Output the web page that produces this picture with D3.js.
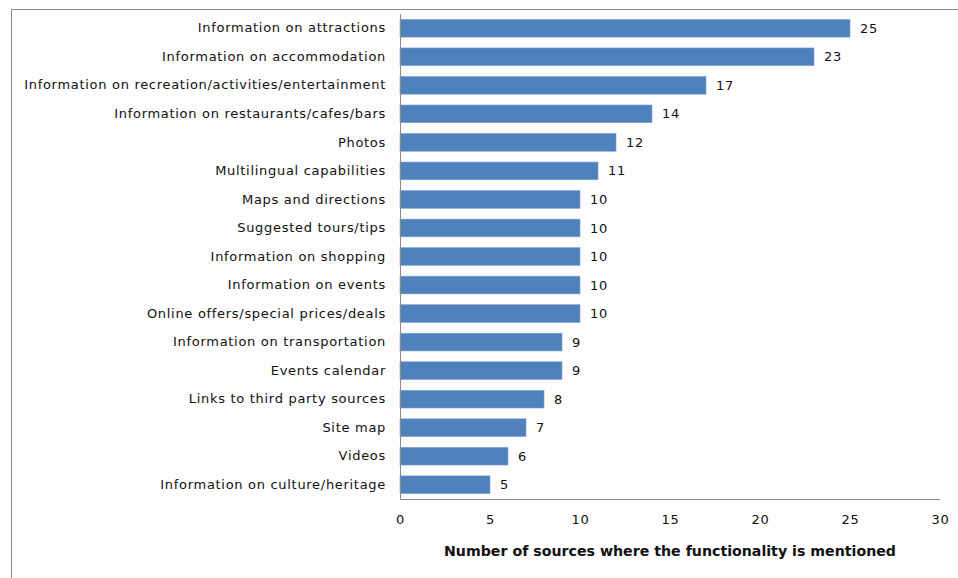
<!DOCTYPE html>
<html>
<head>
<meta charset="utf-8">
<script src="https://cdn.jsdelivr.net/npm/d3@7"></script>
<style>
  body { margin: 0; background: #fff; }
  svg { display: block; }
</style>
</head>
<body>
<svg width="958" height="578"></svg>
<script>
// functionalities, top to bottom
var categories = [
    "Information on attractions",
    "Information on accommodation",
    "Information on recreation/activities/entertainment",
    "Information on restaurants/cafes/bars",
    "Photos",
    "Multilingual capabilities",
    "Maps and directions",
    "Suggested tours/tips",
    "Information on shopping",
    "Information on events",
    "Online offers/special prices/deals",
    "Information on transportation",
    "Events calendar",
    "Links to third party sources",
    "Site map",
    "Videos",
    "Information on culture/heritage"
];
var counts = [25, 23, 17, 14, 12, 11, 10, 10, 10, 10, 10, 9, 9, 8, 7, 6, 5];
var xTicks = [0, 5, 10, 15, 20, 25, 30];
var xTitle = "Number of sources where the functionality is mentioned";

var svg = d3.select("svg");
var font = "'DejaVu Sans', Verdana, sans-serif";

// outer chart border
svg.append("rect")
    .attr("x", 11.5).attr("y", 9.5)
    .attr("width", 960).attr("height", 580)
    .attr("fill", "#fdfdfd")
    .attr("stroke", "#8a8a8a");

var margin = {top: 14, left: 400, right: 18, bottom: 79},
    width = 958 - margin.left - margin.right,
    height = 578 - margin.top - margin.bottom;

var x = d3.scaleLinear().domain([0, 30]).range([0, width]);
var y = d3.scaleBand().domain(categories).range([0, height]).paddingInner(0.38).paddingOuter(0.19);

var g = svg.append("g").attr("transform", "translate(" + margin.left + "," + margin.top + ")");

var data = categories.map(function(c, i){ return {name: c, value: counts[i]}; });

g.selectAll("rect.bar")
    .data(data)
    .enter().append("rect")
    .attr("class", "bar")
    .attr("x", 0)
    .attr("y", function(d){ return y(d.name); })
    .attr("width", function(d){ return x(d.value); })
    .attr("height", y.bandwidth())
    .attr("fill", "#4f81bd")
    .attr("stroke", "#7ba0cd")
    .attr("stroke-width", 0.6);

g.selectAll("text.val")
    .data(data)
    .enter().append("text")
    .attr("class", "val")
    .attr("x", function(d){ return x(d.value) + 10; })
    .attr("y", function(d){ return y(d.name) + y.bandwidth() / 2; })
    .attr("dy", "0.35em")
    .attr("font-family", font)
    .attr("font-size", "13px")
    .attr("letter-spacing", "0.7px")
    .attr("fill", "#111")
    .text(function(d){ return d.value; });

// y axis (category labels)
var yAxis = g.append("g")
    .call(d3.axisLeft(y).tickSize(0).tickPadding(14));
yAxis.select(".domain").attr("stroke", "#8a8a8a").attr("d", "M0.5,0V" + (height + 0.5));
yAxis.selectAll("text")
    .attr("font-family", font)
    .attr("font-size", "13px")
    .attr("letter-spacing", "0.7px")
    .attr("fill", "#111");

// x axis
var xAxis = g.append("g")
    .attr("transform", "translate(0," + height + ")")
    .call(d3.axisBottom(x).tickValues(xTicks).tickSize(0).tickPadding(16));
xAxis.select(".domain").attr("stroke", "#8a8a8a").attr("d", "M0.5,0.5H" + width);
xAxis.selectAll("text")
    .attr("font-family", font)
    .attr("font-size", "13px")
    .attr("letter-spacing", "0.7px")
    .attr("fill", "#111");

svg.append("text")
    .attr("x", margin.left + width / 2)
    .attr("y", 556)
    .attr("text-anchor", "middle")
    .attr("font-family", font)
    .attr("font-weight", "bold")
    .attr("font-size", "14px")
    .attr("textLength", 452)
    .attr("lengthAdjust", "spacingAndGlyphs")
    .attr("fill", "#111")
    .text(xTitle);
</script>
</body>
</html>
